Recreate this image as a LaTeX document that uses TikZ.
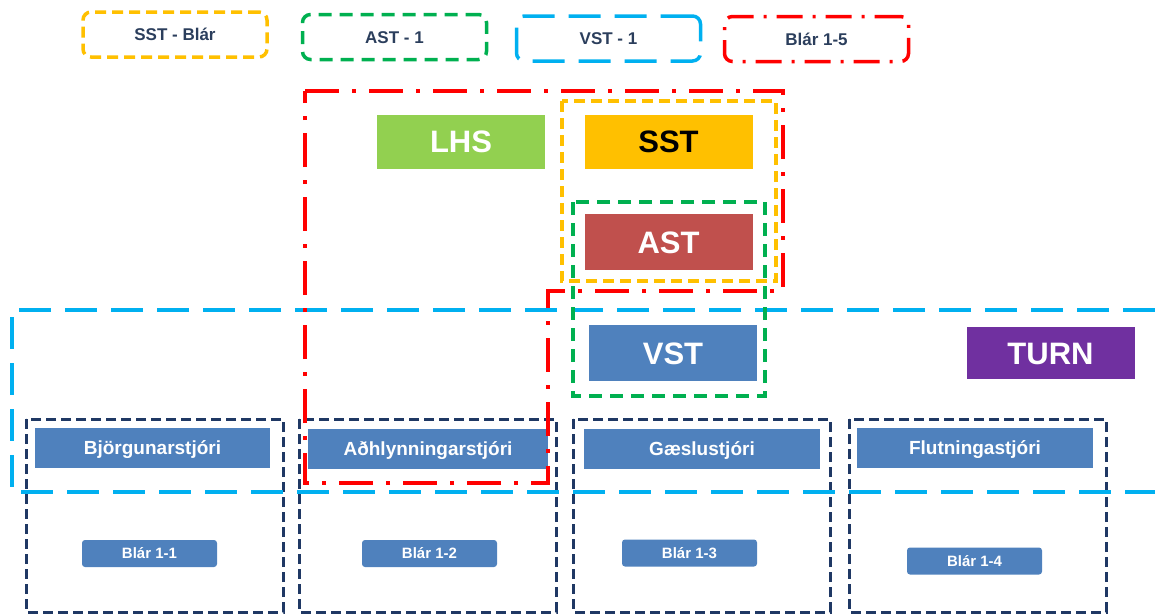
\documentclass[tikz,border=0pt]{standalone}
\usepackage{fontspec}
\setmainfont{Liberation Sans}
\definecolor{lhsGreen}{HTML}{92D050}
\definecolor{sstYellow}{HTML}{FFC000}
\definecolor{astRed}{HTML}{C0504D}
\definecolor{roleBlue}{HTML}{4F81BD}
\definecolor{turnPurple}{HTML}{7030A0}
\definecolor{frameBlue}{HTML}{00B0F0}
\definecolor{frameGreen}{HTML}{00B050}
\definecolor{frameRed}{HTML}{FF0000}
\definecolor{frameNavy}{HTML}{1F3864}
\definecolor{legendText}{HTML}{2B3E5C}

\begin{document}
\begin{tikzpicture}
[x=1pt,y=-1pt,
  bigDecorate/.style={inner sep=0pt,text=white,minimum width=168,minimum height=54,%
    text height=22.3pt,text depth=0pt,font=\bfseries\fontsize{31}{34}\selectfont},%
  roleDecorate/.style={inner sep=0pt,fill=roleBlue,text=white,minimum height=40,%
    text height=13.7pt,text depth=0pt,font=\bfseries\fontsize{19}{22}\selectfont},%
  teamDecorate/.style={inner sep=0pt,fill=roleBlue,text=white,rounded corners=3pt,%
    minimum width=135,minimum height=27,text height=10.8pt,text depth=0pt,%
    font=\bfseries\fontsize{15}{17}\selectfont},%
  legendDecorate/.style={inner sep=0pt,rounded corners=8pt,line width=3.5pt,%
    minimum width=184,minimum height=45,text=legendText,text height=12.2pt,%
    text depth=0pt,font=\bfseries\fontsize{17}{20}\selectfont},%
  yellowDash/.style={draw=sstYellow,dash pattern=on 11pt off 6pt},%
  greenDash/.style={draw=frameGreen,dash pattern=on 13pt off 8pt},%
  blueDash/.style={draw=frameBlue,dash pattern=on 32pt off 14pt},%
  redDashDot/.style={draw=frameRed,dash pattern=on 34pt off 13pt on 4pt off 13pt},%
  navyDash/.style={draw=frameNavy,line width=3pt,dash pattern=on 10pt off 5pt}]
\useasboundingbox (0,0) rectangle (1155,614);

%% legend
\node (legSst) at (175,34.5) [legendDecorate,yellowDash] {SST - Blár};
\node (legAst) at (394.5,37) [legendDecorate,greenDash] {AST - 1};
\node (legVst) at (608.5,38.5) [legendDecorate,blueDash] {VST - 1};
\node (legBlar) at (816.5,39) [legendDecorate,redDashDot,%
  dash pattern=on 26pt off 10pt on 3pt off 10pt] {Blár 1-5};

%% command boxes
\node (lhs) at (461,141.5) [bigDecorate,fill=lhsGreen] {LHS};
\node (sst) at (668.5,141.5) [bigDecorate,fill=sstYellow,text=black] {SST};
\node (ast) at (668.5,242) [bigDecorate,fill=astRed,minimum height=56] {AST};
\node (vst) at (673,353) [bigDecorate,fill=roleBlue,minimum height=56] {VST};
\node (turn) at (1050.5,353) [bigDecorate,fill=turnPurple,minimum height=52] {TURN};

%% role boxes
\foreach \nodename/\x/\y/\w/\txt in {bjorg/152.5/447.5/235/Björgunarstjóri,
  adhlyn/428/448.5/240/Aðhlynningarstjóri, gaesla/702/449/236/Gæslustjóri,
  flutn/975/447.5/236/Flutningastjóri}
{
  \node (\nodename) at (\x,\y) [roleDecorate,minimum width=\w] {\txt};
}
%% team boxes
\foreach \nodename/\x/\y/\txt in {blarA/149.5/553.5/Blár 1-1, blarB/429.5/553.5/Blár 1-2,
  blarC/689.5/553/Blár 1-3, blarD/974.5/561/Blár 1-4}
{
  \node (\nodename) at (\x,\y) [teamDecorate] {\txt};
}

%% frames
\foreach \x in {26,299,573,849}
{
  \draw[navyDash] (\x,419) rectangle +(257,193);
}
\draw[blueDash,line width=4pt] (1155,310) -- (12,310) -- (12,492) -- (1155,492);
\draw[yellowDash,line width=3.5pt] (562,101) rectangle (776,281);
\draw[greenDash,line width=3.5pt] (573,202) rectangle (765,396);
\draw[redDashDot,line width=4pt] (305,91) -- (783,91) -- (783,291) -- (548,291)
  -- (548,483) -- (305,483) -- cycle;
\end{tikzpicture}
\end{document}
